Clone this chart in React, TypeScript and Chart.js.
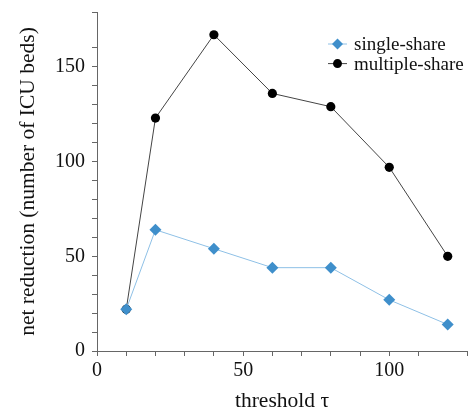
import React, { useEffect, useRef } from "react";
import { Chart, registerables } from "chart.js";

Chart.register(...registerables);

const thresholds = [10, 20, 40, 60, 80, 100, 120];
const singleShare = [22, 64, 54, 44, 44, 27, 14];
const multipleShare = [22, 123, 167, 136, 129, 97, 50];
const seriesLabels = ["single-share", "multiple-share"];
const xTitle = "threshold τ";
const yTitle = "net reduction (number of ICU beds)";

const FONT = "'Liberation Serif', 'DejaVu Serif', serif";
const AXIS = "#666666";

const legendPlugin = {
  id: "insideLegend",
  afterDraw(chart: any) {
    const ctx = chart.ctx;
    const x0 = 328;
    const y0 = 44;
    const rowH = 19.6;
    chart.data.datasets.forEach((ds: any, i: number) => {
      const y = y0 + i * rowH;
      ctx.save();
      ctx.strokeStyle = ds.borderColor;
      ctx.lineWidth = 1;
      ctx.beginPath();
      ctx.moveTo(x0, y);
      ctx.lineTo(x0 + 19, y);
      ctx.stroke();
      ctx.fillStyle = ds.pointBackgroundColor;
      ctx.beginPath();
      const cx = x0 + 9.5;
      if (ds.pointStyle === "rectRot") {
        const r = 5.5;
        ctx.moveTo(cx, y - r);
        ctx.lineTo(cx + r, y);
        ctx.lineTo(cx, y + r);
        ctx.lineTo(cx - r, y);
        ctx.closePath();
      } else {
        ctx.arc(cx, y, 4.5, 0, Math.PI * 2);
      }
      ctx.fill();
      ctx.fillStyle = "#111";
      ctx.font = `19px ${FONT}`;
      ctx.textBaseline = "middle";
      ctx.textAlign = "left";
      ctx.fillText(ds.label, x0 + 26, y + 1);
      ctx.restore();
    });
  },
};

export default function App() {
  const ref = useRef<HTMLCanvasElement>(null);
  useEffect(() => {
    if (!ref.current) return;
    const chart = new Chart(ref.current, {
      type: "line",
      data: {
        datasets: [
          {
            label: seriesLabels[0],
            data: thresholds.map((x, i) => ({ x, y: singleShare[i] })),
            borderColor: "#8ec0e6",
            borderWidth: 1,
            pointStyle: "rectRot",
            pointRadius: 6,
            pointBackgroundColor: "#3f8fcb",
            pointBorderColor: "#3f8fcb",
            pointBorderWidth: 0,
          },
          {
            label: seriesLabels[1],
            data: thresholds.map((x, i) => ({ x, y: multipleShare[i] })),
            borderColor: "#444444",
            borderWidth: 1,
            pointStyle: "circle",
            pointRadius: 4.6,
            pointBackgroundColor: "#000000",
            pointBorderColor: "#000000",
            pointBorderWidth: 0,
          },
        ],
      },
      options: {
        animation: false,
        responsive: false,
        maintainAspectRatio: false,
        layout: { padding: { top: 12, right: 0, left: 0, bottom: 0 } },
        plugins: { legend: { display: false }, tooltip: { enabled: false } },
        scales: {
          x: {
            type: "linear",
            min: 0,
            max: 126.6,
            afterFit: (s: any) => {
              s.height = 57;
              s.paddingLeft = 0;
              s.paddingRight = 0;
            },
            border: { color: AXIS, width: 1 },
            grid: { drawOnChartArea: false, drawTicks: true, tickLength: 5, tickColor: AXIS },
            ticks: {
              stepSize: 10,
              autoSkip: false,
              maxRotation: 0,
              padding: 3,
              color: "#111",
              font: { family: FONT, size: 20 },
              callback: (v: any) => (Number(v) % 50 === 0 ? String(v) : ""),
            },
            title: {
              display: true,
              text: xTitle,
              color: "#111",
              font: { family: FONT, size: 21.5, lineHeight: 0.6 },
              padding: { top: 0, bottom: 0.5 },
            },
          },
          y: {
            type: "linear",
            min: 0,
            max: 179,
            afterFit: (s: any) => {
              s.width = 97;
              s.paddingTop = 0;
              s.paddingBottom = 0;
            },
            border: { color: AXIS, width: 1 },
            grid: { drawOnChartArea: false, drawTicks: true, tickLength: 5, tickColor: AXIS },
            ticks: {
              stepSize: 10,
              autoSkip: false,
              padding: 7,
              color: "#111",
              font: { family: FONT, size: 20 },
              callback: (v: any) => (Number(v) % 50 === 0 ? String(v) : ""),
            },
            title: {
              display: true,
              text: yTitle,
              color: "#111",
              font: { family: FONT, size: 21.5, lineHeight: 1 },
              padding: { top: 17.5, bottom: 0 },
            },
          },
        },
      },
      plugins: [legendPlugin],
    });
    return () => chart.destroy();
  }, []);
  return (
    <div style={{ position: "fixed", left: 0, top: 0, width: 473, height: 408, background: "#fff" }}>
      <canvas ref={ref} width={473} height={408} style={{ display: "block" }} />
    </div>
  );
}
